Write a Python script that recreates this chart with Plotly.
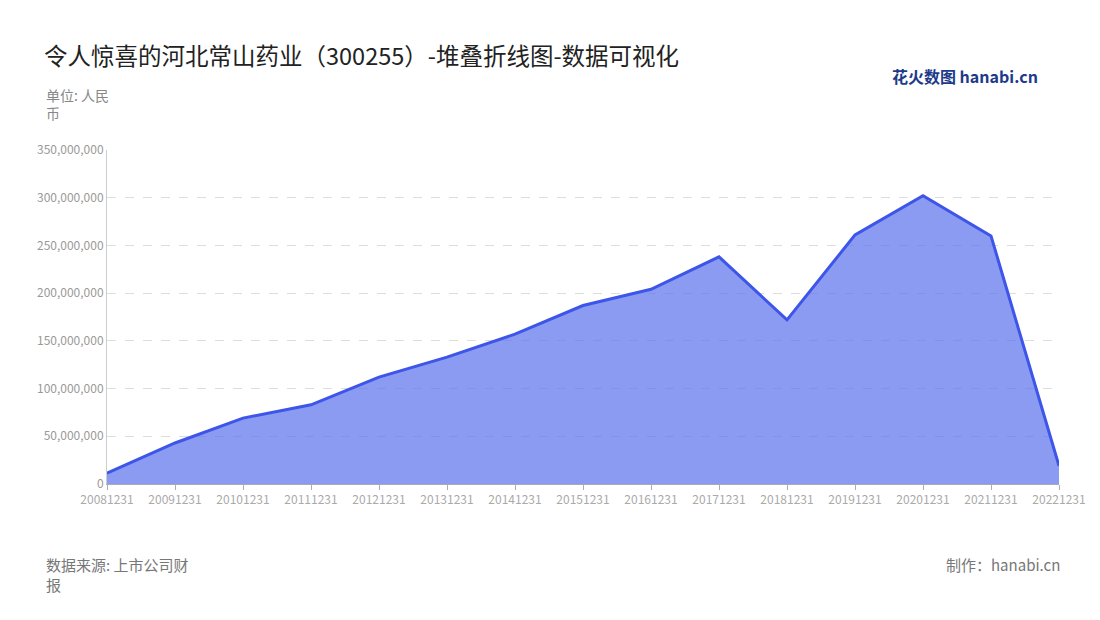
import plotly.graph_objs as go

years = ['20081231', '20091231', '20101231', '20111231', '20121231', '20131231', '20141231',
         '20151231', '20161231', '20171231', '20181231', '20191231', '20201231', '20211231', '20221231']
profit = [11.5e6, 43e6, 69e6, 83e6, 112e6, 133e6, 157e6, 187e6, 204e6, 238e6, 172e6, 261e6, 302e6, 260e6, 19e6]
y_ticks = [0, 50e6, 100e6, 150e6, 200e6, 250e6, 300e6, 350e6]

font = 'Noto Sans CJK SC'
trace = go.Scatter(x=years, y=profit, mode='lines', fill='tozeroy',
                   line=dict(color='#3d55e8', width=3), fillcolor='rgba(93,116,235,0.72)',
                   hoverinfo='x+y')
layout = go.Layout(
    width=1100, height=620, margin=dict(l=99, r=49, t=142, b=144),
    paper_bgcolor='white', plot_bgcolor='white', showlegend=False,
    font=dict(family=font, color='#999'),
    title=dict(text='令人惊喜的河北常山药业（300255）-堆叠折线图-数据可视化', x=36 / 1100, y=0.935,
               xanchor='left', font=dict(size=23.5, color='#222', family=font)),
    xaxis=dict(type='category', range=[0, 14], showgrid=False, showline=True, linecolor='#aab',
               ticks='outside', tickcolor='#aab', tickfont=dict(size=12, color='#aaa')),
    yaxis=dict(range=[0, 350e6], tickvals=y_ticks, tickformat=',', showgrid=True,
               gridcolor='#ddd', griddash='dash', zeroline=False, showline=True, linecolor='#ccc',
               tickfont=dict(size=12, color='#999')),
    annotations=[
        dict(text='单位: 人民<br>币', xref='paper', yref='paper', x=-0.066, y=1.2, xanchor='left',
             yanchor='top', showarrow=False, align='left', font=dict(size=14, color='#888')),
        dict(text='数据来源: 上市公司财<br>报', xref='paper', yref='paper', x=-0.066, y=-0.205, xanchor='left',
             yanchor='top', showarrow=False, align='left', font=dict(size=15, color='#777')),
        dict(text='制作：hanabi.cn', xref='paper', yref='paper', x=1.003, y=-0.205, xanchor='right',
             yanchor='top', showarrow=False, font=dict(size=15, color='#777')),
        dict(text='<b>花火数图</b> <b>hanabi.cn</b>', xref='paper', yref='paper', x=0.98, y=1.263,
             xanchor='right', yanchor='top', showarrow=False, font=dict(size=16, color='#1e3a8a')),
    ],
)
fig = go.Figure(data=[trace], layout=layout)
fig.write_html('out.html')
